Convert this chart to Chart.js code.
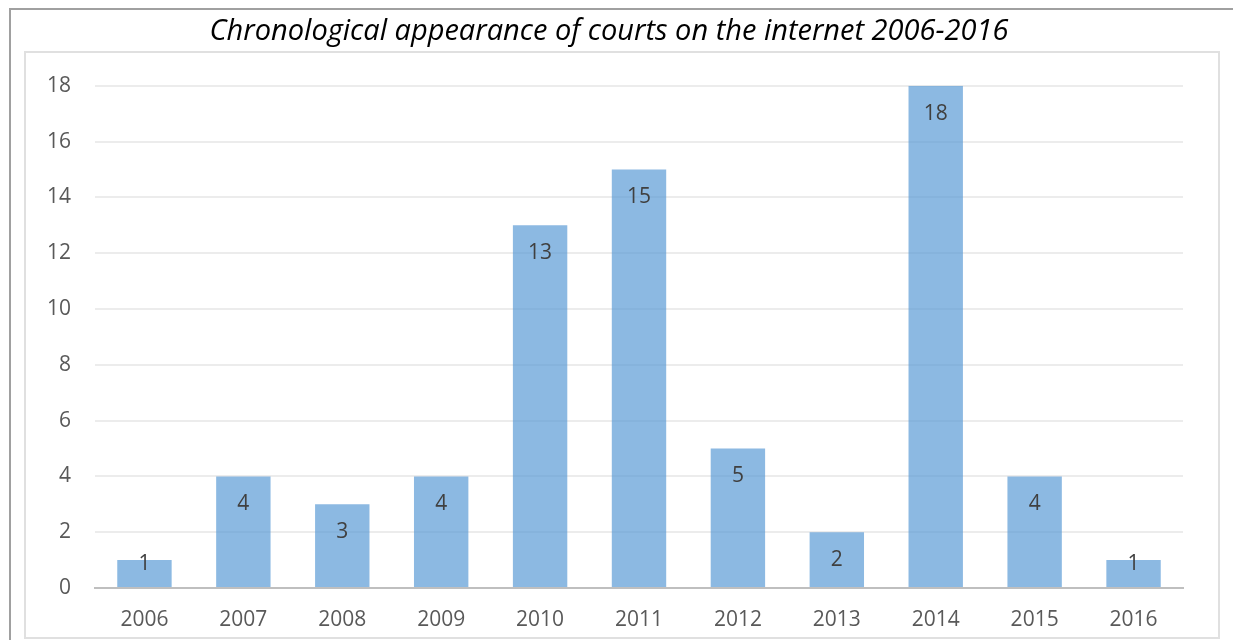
<!DOCTYPE html>
<html>
<head>
<meta charset="utf-8">
<script src="https://cdn.jsdelivr.net/npm/chart.js@4"></script>
<style>
  html, body { margin: 0; padding: 0; background: #fff; }
  #wrap { width: 1233px; height: 640px; position: relative; }
</style>
</head>
<body>
<div id="wrap"><canvas id="BarChart" width="1233" height="640"></canvas></div>
<script>
// chart data
const years = ['2006', '2007', '2008', '2009', '2010', '2011', '2012', '2013', '2014', '2015', '2016'];
const courts = [1, 4, 3, 4, 13, 15, 5, 2, 18, 4, 1];
const yTicks = [0, 2, 4, 6, 8, 10, 12, 14, 16, 18];

const FONT = "'Open Sans', sans-serif";

// frames around the chart, like the spreadsheet export
const framePlugin = {
    id: 'frames',
    beforeDraw(chart) {
        const c = chart.ctx;
        c.save();
        c.fillStyle = '#fff';
        c.fillRect(0, 0, chart.width, chart.height);
        c.strokeStyle = '#a0a0a0';
        c.lineWidth = 2;
        c.strokeRect(10, 9, chart.width + 20, chart.height + 20);
        c.strokeStyle = '#e0e0e0';
        c.lineWidth = 2;
        c.strokeRect(25, 52, 1194, 586);
        c.restore();
    }
};

// value labels inside the bar ends
const labelPlugin = {
    id: 'barLabels',
    afterDatasetsDraw(chart) {
        const c = chart.ctx;
        const meta = chart.getDatasetMeta(0);
        c.save();
        c.font = '21px ' + FONT;
        c.fillStyle = '#404040';
        c.textAlign = 'center';
        c.textBaseline = 'middle';
        meta.data.forEach((bar, i) => {
            const y = Math.min(bar.y + 28, bar.base - 23);
            c.fillText(String(courts[i]), bar.x, y);
        });
        c.restore();
    }
};

const ctx = document.getElementById('BarChart').getContext('2d');
new Chart(ctx, {
    type: 'bar',
    data: {
        labels: years,
        datasets: [{
            data: courts,
            backgroundColor: 'rgba(91, 155, 213, 0.7)',
            borderWidth: 0,
            barPercentage: 0.55,
            categoryPercentage: 1.0
        }]
    },
    options: {
        responsive: false,
        animation: false,
        layout: {
            padding: { left: 35, right: 50, top: 0, bottom: 0 }
        },
        scales: {
            x: {
                grid: { display: false, drawTicks: false },
                border: { display: true, color: '#bfbfbf', width: 2 },
                ticks: {
                    color: '#595959',
                    font: { family: FONT, size: 21 },
                    padding: 19
                },
                afterFit(scale) { scale.height = 52; }
            },
            y: {
                min: 0,
                max: 18,
                afterBuildTicks(scale) {
                    scale.ticks = yTicks.map(v => ({ value: v }));
                },
                grid: { color: '#ececec', lineWidth: 2, drawTicks: false },
                border: { display: false },
                ticks: {
                    color: '#595959',
                    font: { family: FONT, size: 21 },
                    padding: 24
                },
                afterFit(scale) { scale.width = 60; }
            }
        },
        plugins: {
            legend: { display: false },
            tooltip: { enabled: false },
            title: {
                display: true,
                text: 'Chronological appearance of courts on the internet 2006-2016',
                color: '#000',
                font: { family: FONT, size: 29, style: 'italic', weight: 'normal' },
                padding: { top: 14, bottom: 37 }
            }
        }
    },
    plugins: [framePlugin, labelPlugin]
});
</script>
</body>
</html>
